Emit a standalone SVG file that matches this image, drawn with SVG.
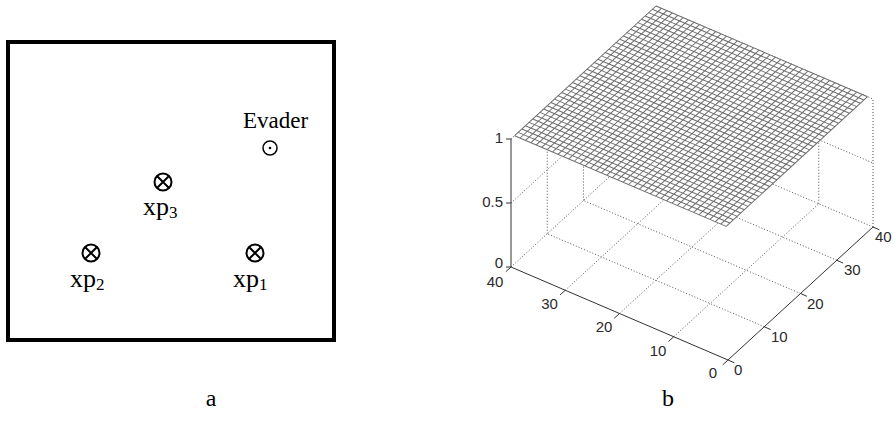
<svg xmlns="http://www.w3.org/2000/svg" width="894" height="421" viewBox="0 0 894 421">
<style>
.serif{font-family:"Liberation Serif","Times New Roman",serif;fill:#000}
.lbl{font-family:"Liberation Sans",Arial,sans-serif;font-size:15px;fill:#2a2a2a}
.grid{stroke:#555;stroke-width:1;stroke-dasharray:1 2;fill:none}
.ax{stroke:#333;stroke-width:1;fill:none}
.sym{stroke:#000;stroke-width:2;fill:none}
.mesh{stroke:#6e6e6e;stroke-width:1;fill:none}
</style>
<defs>
<g id="xsym">
<circle r="8.5" class="sym"/>
<path d="M-6 -6L6 6M6 -6L-6 6" class="sym"/>
</g>
</defs>
<rect width="894" height="421" fill="#fff"/>
<!-- panel a -->
<g id="boundary"><rect x="8" y="42" width="326" height="298" fill="none" stroke="#000" stroke-width="4"/></g>
<g id="evader">
<text class="serif" x="243" y="128" font-size="23">Evader</text>
<circle cx="270" cy="148" r="7" fill="none" stroke="#000" stroke-width="1.5"/>
<circle cx="270" cy="148" r="1.3" fill="#000"/>
</g>
<g id="xp3">
<use href="#xsym" x="163" y="182"/>
<text class="serif" x="143" y="215" font-size="26">xp<tspan font-size="17" dy="3">3</tspan></text>
</g>
<g id="xp2">
<use href="#xsym" x="91" y="253"/>
<text class="serif" x="70" y="287" font-size="26">xp<tspan font-size="17" dy="3">2</tspan></text>
</g>
<g id="xp1">
<use href="#xsym" x="255" y="253"/>
<text class="serif" x="233" y="287" font-size="26">xp<tspan font-size="17" dy="3">1</tspan></text>
</g>
<text class="serif" x="211" y="406" font-size="24" text-anchor="middle">a</text>
<text class="serif" x="668" y="406" font-size="24" text-anchor="middle">b</text>
<!-- panel b: 3D plot -->
<g id="gridlines">
<path class="grid" d="M673.75 336.75L818.75 203.75M619.5 313.5L764.5 180.5M565.25 290.25L710.25 157.25M511 267L656 134
M764.25 326.75L547.25 233.75M800.5 293.5L583.5 200.5M836.75 260.25L619.75 167.25M873 227L656 134
M547.25 233.75V105.75M583.5 200.5V72.5M619.75 167.25V39.25M656 134V6
M511 203L656 70M511 139L656 6
M873 227V99M818.75 203.75V75.75M764.5 180.5V52.5M710.25 157.25V29.25
M656 70L873 163M656 6L873 99"/>
</g>
<g id="surface" transform="matrix(-5.425 -2.325 3.625 -3.325 728 232)">
<path d="M1 1H40V40H1Z" fill="#fff" stroke="none"/>
<path class="mesh" vector-effect="non-scaling-stroke" d="M1 1V40M2 1V40M3 1V40M4 1V40M5 1V40M6 1V40M7 1V40M8 1V40M9 1V40M10 1V40M11 1V40M12 1V40M13 1V40M14 1V40M15 1V40M16 1V40M17 1V40M18 1V40M19 1V40M20 1V40M21 1V40M22 1V40M23 1V40M24 1V40M25 1V40M26 1V40M27 1V40M28 1V40M29 1V40M30 1V40M31 1V40M32 1V40M33 1V40M34 1V40M35 1V40M36 1V40M37 1V40M38 1V40M39 1V40M40 1V40
M1 1H40M1 2H40M1 3H40M1 4H40M1 5H40M1 6H40M1 7H40M1 8H40M1 9H40M1 10H40M1 11H40M1 12H40M1 13H40M1 14H40M1 15H40M1 16H40M1 17H40M1 18H40M1 19H40M1 20H40M1 21H40M1 22H40M1 23H40M1 24H40M1 25H40M1 26H40M1 27H40M1 28H40M1 29H40M1 30H40M1 31H40M1 32H40M1 33H40M1 34H40M1 35H40M1 36H40M1 37H40M1 38H40M1 39H40M1 40H40"/>
</g>
<g id="axes">
<path class="ax" d="M511 267L728 360L873 227M511 267V139"/>
<path class="ax" d="M511 267l-5.2 4.7M565.25 290.25l-5.2 4.7M619.5 313.5l-5.2 4.7M673.75 336.75l-5.2 4.7M728 360l-5.2 4.7
M728 360l6.4 2.8M764.25 326.75l6.4 2.8M800.5 293.5l6.4 2.8M836.75 260.25l6.4 2.8M873 227l6.4 2.8
M511 267h-5M511 203h-5M511 139h-5"/>
<text class="lbl" x="495" y="287" text-anchor="middle">40</text>
<text class="lbl" x="549.5" y="309" text-anchor="middle">30</text>
<text class="lbl" x="604" y="332" text-anchor="middle">20</text>
<text class="lbl" x="658" y="356" text-anchor="middle">10</text>
<text class="lbl" x="713" y="378" text-anchor="middle">0</text>
<text class="lbl" x="734" y="375">0</text>
<text class="lbl" x="771" y="342">10</text>
<text class="lbl" x="807" y="309">20</text>
<text class="lbl" x="844" y="275">30</text>
<text class="lbl" x="875" y="242">40</text>
<text class="lbl" x="503" y="268" text-anchor="end">0</text>
<text class="lbl" x="503" y="207" text-anchor="end">0.5</text>
<text class="lbl" x="503" y="143" text-anchor="end">1</text>
</g>
</svg>
